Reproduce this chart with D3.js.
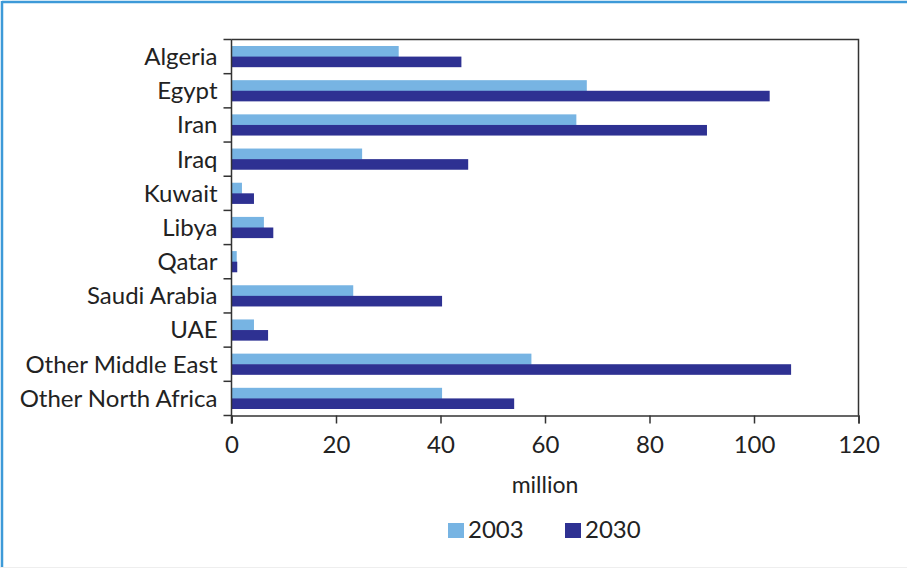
<!DOCTYPE html>
<html><head><meta charset="utf-8">
<script src="https://cdn.jsdelivr.net/npm/d3@7"></script>
<style>body{margin:0;background:#fff}svg{display:block}text{font-family:Lato,"Open Sans",sans-serif;fill:#222}</style>
</head><body>
<script>
const categories = ["Algeria","Egypt","Iran","Iraq","Kuwait","Libya","Qatar","Saudi Arabia","UAE","Other Middle East","Other North Africa"];
const values2003 = [32, 68, 66, 25, 2, 6.2, 1, 23.3, 4.3, 57.4, 40.3];
const values2030 = [44, 103, 91, 45.3, 4.3, 8, 1.1, 40.3, 7, 107.1, 54.1];
const seriesNames = ["2003","2030"];
const seriesColors = ["#77b4e3","#2e3192"];
const xTicks = [0,20,40,60,80,100,120];
const xTitle = "million";

const W=907,H=568;
const m={left:231.5,right:858.5,top:39.5,bottom:415.5};
const svg=d3.select("body").append("svg").attr("width",W).attr("height",H);

// outer frame
svg.append("line").attr("x1",2).attr("x2",W).attr("y1",2).attr("y2",2).attr("stroke","#3d9ad8").attr("stroke-width",2.5);
svg.append("line").attr("x1",2).attr("x2",2).attr("y1",1).attr("y2",H).attr("stroke","#3d9ad8").attr("stroke-width",2.5);
svg.append("line").attr("x1",0).attr("x2",W).attr("y1",H-0.5).attr("y2",H-0.5).attr("stroke","#eee").attr("stroke-width",1);

const x=d3.scaleLinear().domain([0,120]).range([m.left,m.right]);
const y=d3.scaleBand().domain(categories).range([m.top,m.bottom]).padding(0);
const bw=y.bandwidth();
const groupFrac=0.62;
const inner=d3.scaleBand().domain(seriesNames).range([bw*(1-groupFrac)/2,bw*(1+groupFrac)/2]).padding(0);

// bars
[values2003,values2030].forEach((vals,si)=>{
  svg.append("g").selectAll("rect").data(categories).join("rect")
    .attr("x",x(0))
    .attr("y",(d)=>y(d)+inner(seriesNames[si]))
    .attr("width",(d,i)=>x(vals[i])-x(0))
    .attr("height",inner.bandwidth()+(si===0?0.5:0))
    .attr("fill",seriesColors[si]);
});

// plot frame (top and right)
svg.append("path").attr("d",`M${m.left},${m.top}H${m.right}V${m.bottom}`).attr("fill","none").attr("stroke","#333").attr("stroke-width",1.5);

// x axis
const xAxis=d3.axisBottom(x).tickValues(xTicks).tickSize(8).tickPadding(12).tickFormat(d3.format("d"));
const gx=svg.append("g").attr("transform",`translate(0,${m.bottom})`).call(xAxis);
gx.select(".domain").attr("stroke","#333").attr("stroke-width",1.5);
gx.selectAll(".tick line").attr("stroke","#333").attr("stroke-width",1.5);
gx.selectAll(".tick text").attr("font-size",24).style("font-family","Lato,sans-serif").attr("fill","#222");

// y axis: ticks at category boundaries
const gy=svg.append("g").attr("transform",`translate(${m.left},0)`);
gy.append("line").attr("x1",0).attr("x2",0).attr("y1",m.top).attr("y2",m.bottom+8).attr("stroke","#333").attr("stroke-width",1.5);
const bounds=categories.map(c=>y(c)).concat([m.bottom]);
gy.selectAll("line.bt").data(bounds).join("line").attr("class","bt")
  .attr("x1",-8).attr("x2",0).attr("y1",d=>d).attr("y2",d=>d).attr("stroke","#333").attr("stroke-width",1.5);
gy.selectAll("text").data(categories).join("text")
  .attr("x",-14).attr("y",d=>y(d)+bw/2).attr("dy","0.35em")
  .attr("text-anchor","end").attr("font-size",24).text(d=>d);

// axis title
svg.append("text").attr("x",(m.left+m.right)/2).attr("y",493).attr("text-anchor","middle").attr("font-size",23).text(xTitle);

// legend
const lg=svg.append("g");
const legX=[448,565];
seriesNames.forEach((s,i)=>{
  lg.append("rect").attr("x",legX[i]).attr("y",523).attr("width",16).attr("height",15).attr("fill",seriesColors[i]);
  lg.append("text").attr("x",legX[i]+20).attr("y",538).attr("font-size",24).text(s);
});
</script>
</body></html>
